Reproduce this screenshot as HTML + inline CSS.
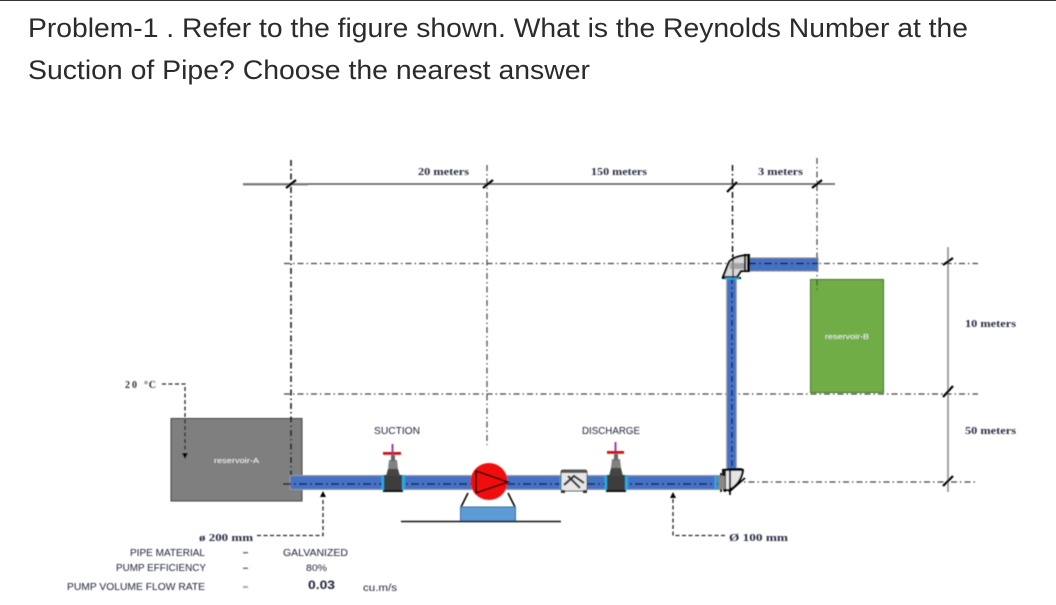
<!DOCTYPE html>
<html><head><meta charset="utf-8"><style>
html,body{margin:0;padding:0;background:#fff}
svg{display:block}
.t{font-family:"Liberation Sans",Arial,sans-serif;font-size:27px;fill:#2b2b2b}
.s{font-family:"DejaVu Sans","Liberation Sans",sans-serif;font-size:9px;fill:#2a2d42;font-weight:bold}
.m{font-family:"Liberation Serif",serif;font-size:10px;fill:#2a2d42;font-weight:bold}
.l{font-family:"Liberation Sans",sans-serif;font-size:10px;fill:#1f2238}
.w{font-family:"Liberation Sans",sans-serif;font-size:7px;fill:#f4f4f4}
.dd{stroke:#111;stroke-width:1.5;fill:none;stroke-dasharray:6 3 1.5 3}
.dh{stroke:#444;stroke-width:1.2;fill:none;stroke-dasharray:6 3 1.5 3}
.d{stroke:#222;stroke-width:1.3;fill:none;stroke-dasharray:4 2.5}
.tk{stroke:#000;stroke-width:2.2;fill:none}
</style></head><body>
<svg width="1056" height="605" viewBox="0 0 1056 605" xmlns="http://www.w3.org/2000/svg">
<defs><filter id="b" x="-2%" y="-2%" width="104%" height="104%"><feGaussianBlur stdDeviation="0.4"/></filter></defs>
<rect width="1056" height="605" fill="#fff"/>
<line x1="0" y1="0.5" x2="1056" y2="0.5" stroke="#333" stroke-width="1"/>
<text class="t" x="28" y="37" textLength="940" lengthAdjust="spacingAndGlyphs">Problem-1 . Refer to the figure shown. What is the Reynolds Number at the</text>
<text class="t" x="28" y="79" textLength="562" lengthAdjust="spacingAndGlyphs">Suction of Pipe? Choose the nearest answer</text>

<g filter="url(#b)">
<!-- reservoirs -->
<rect x="171" y="418.5" width="131" height="82.5" fill="#7f7f7f" stroke="#3a3a3a" stroke-width="1"/>
<rect x="810.5" y="279.5" width="73" height="113" fill="#70ad47" stroke="#3f6f27" stroke-width="1"/>
<text class="w" x="214" y="463" textLength="45" lengthAdjust="spacingAndGlyphs">reservoir-A</text>
<text class="w" x="825" y="339" textLength="44" lengthAdjust="spacingAndGlyphs">reservoir-B</text>

<!-- dimension lines -->
<line x1="243" y1="184" x2="835" y2="184" stroke="#555" stroke-width="1.4"/>
<line x1="243" y1="184.6" x2="308" y2="184.6" stroke="#777" stroke-width="1.6"/>
<line x1="948" y1="247" x2="948" y2="492" stroke="#999" stroke-width="1.8"/>

<!-- centre lines -->
<line class="dd" x1="291" y1="160" x2="291" y2="476"/>
<line class="dh" x1="487" y1="165" x2="487" y2="445"/>
<line class="dd" x1="732.5" y1="165" x2="732.5" y2="470"/>
<line class="dh" x1="817" y1="158" x2="817" y2="290"/>
<line class="dh" x1="284" y1="263.5" x2="978" y2="263.5"/>
<line class="dh" x1="284" y1="394" x2="978" y2="394"/>
<line class="dh" x1="735" y1="482" x2="978" y2="482"/>

<!-- ticks -->
<g class="tk">
<line x1="286" y1="188" x2="296" y2="180"/><line x1="483" y1="188" x2="493" y2="180"/>
<line x1="727" y1="192" x2="737" y2="182"/><line x1="812" y1="188" x2="822" y2="180"/>
<line x1="943" y1="265" x2="953" y2="258"/><line x1="943" y1="397" x2="953" y2="386"/>
<line x1="943" y1="486" x2="953" y2="476"/>
</g>

<!-- pipes -->
<rect x="290" y="475.5" width="430" height="14" fill="#4472c4" stroke="#999" stroke-width="1"/>
<rect x="726.5" y="276" width="10" height="194" fill="#4472c4" stroke="#aaa" stroke-width="1"/>
<rect x="746" y="258" width="72" height="13" fill="#4472c4" stroke="#888" stroke-width="1"/>
<line x1="283" y1="484" x2="720" y2="484" stroke="#14244a" stroke-width="1.4" stroke-dasharray="8 3 2 3"/>
<line x1="732" y1="278" x2="732" y2="470" stroke="#14244a" stroke-width="1.4" stroke-dasharray="6 3 2 3"/>
<line x1="748" y1="263.5" x2="818" y2="263.5" stroke="#14244a" stroke-width="1.4" stroke-dasharray="8 3 2 3"/>

<!-- upper elbow -->
<path d="M723 277 L729 262 Q734 256 748 255 L748 271 L741 271 L737 277 Z" fill="#d8d8d8" stroke="#000" stroke-width="2"/>
<path d="M745 254V272M749 254V272M722 278H741" stroke="#000" stroke-width="2" fill="none"/>
<rect x="725" y="277.5" width="14" height="2" fill="#29a8e0"/>
<line x1="733" y1="254" x2="733" y2="278" stroke="#000" stroke-width="1.2"/>
<rect x="730" y="263" width="14" height="6" fill="#999" opacity=".8"/>

<!-- lower elbow -->
<path d="M723 470 Q741 468 743 470 Q741 484 729 490 L724 490 Z" fill="#e4e4e4" stroke="#000" stroke-width="2"/>
<path d="M721 473V492M725 471V492M723 470H743M729 492L745 478M730 468V495" stroke="#000" stroke-width="1.7" fill="none"/>
<rect x="714.5" y="475" width="2.5" height="15" fill="#29a8e0"/>
<rect x="718" y="476" width="7" height="13" fill="#888"/>

<!-- suction valve -->
<rect x="381.5" y="475" width="23.5" height="15" fill="#29a8e0"/>
<rect x="384" y="475" width="18" height="16" fill="#3e3e3e"/>
<path d="M386 476L388 469H398L400 476Z" fill="#444"/>
<path d="M388 469L389 460H397L398 469Z" fill="#808080"/>
<rect x="391" y="455" width="4" height="6" fill="#666"/>
<rect x="383" y="452" width="18" height="2.8" fill="#c81414"/>
<rect x="391.5" y="444" width="2" height="9" fill="#a43aa4"/>
<rect x="383" y="490" width="20" height="2" fill="#111"/>

<!-- discharge valve -->
<rect x="604.5" y="475" width="23.5" height="15" fill="#29a8e0"/>
<rect x="607" y="475" width="18" height="16" fill="#3e3e3e"/>
<path d="M609 476L611 468H621L623 476Z" fill="#444"/>
<path d="M611 468L612 459H620L621 468Z" fill="#808080"/>
<rect x="614" y="454" width="4" height="6" fill="#666"/>
<rect x="607" y="451" width="17" height="2.8" fill="#c81414"/>
<rect x="614.5" y="442" width="2" height="9" fill="#a43aa4"/>
<rect x="606" y="490" width="20" height="2" fill="#111"/>

<!-- check valve -->
<rect x="559.5" y="475" width="2.5" height="15" fill="#29a8e0"/>
<rect x="561" y="470" width="26" height="21" rx="2" fill="#e6e6e6" stroke="#555" stroke-width="1"/>
<rect x="561" y="470" width="26" height="3" fill="#555"/>
<path d="M564 485L574 476L584 483M568 476L580 488" stroke="#333" stroke-width="2.2" fill="none"/>
<rect x="561" y="490" width="4" height="3" fill="#333"/><rect x="583" y="490" width="4" height="3" fill="#333"/>

<!-- pump -->
<path d="M461 507L468 493M515 507L508 493" stroke="#000" stroke-width="1.6" fill="none"/>
<rect x="460.5" y="507" width="55" height="14" fill="#5b9bd5" stroke="#3a6ea0" stroke-width="1"/>
<line x1="401" y1="521.5" x2="561" y2="521.5" stroke="#111" stroke-width="1.6"/>
<circle cx="489" cy="481.5" r="18.5" fill="#f01010"/>
<path d="M476 471L508 482L476 493Z" fill="none" stroke="#000" stroke-width="1.5"/>

<!-- leaders -->
<path class="d" d="M257 535.5H323V498"/>
<path d="M323 491l-3 6h6z" fill="#000"/>
<path class="d" d="M725 535.5H673V498"/>
<path d="M673 492l-3 6h6z" fill="#000"/>
<path class="d" d="M162 384H185V452"/>
<path d="M185 459l-3 -6h6z" fill="#000"/>

<!-- labels -->
<text class="m" x="418" y="175" textLength="51" lengthAdjust="spacingAndGlyphs">20 meters</text>
<text class="m" x="591" y="175" textLength="56" lengthAdjust="spacingAndGlyphs">150 meters</text>
<text class="m" x="758" y="175" textLength="45" lengthAdjust="spacingAndGlyphs">3 meters</text>
<text class="m" x="965" y="327" textLength="51" lengthAdjust="spacingAndGlyphs">10 meters</text>
<text class="m" x="965" y="434" textLength="51" lengthAdjust="spacingAndGlyphs">50 meters</text>
<text class="m" x="125" y="388" textLength="12">20</text>
<text class="m" x="144" y="388" textLength="12">°C</text>
<text class="l" x="374" y="434" textLength="46" lengthAdjust="spacingAndGlyphs">SUCTION</text>
<text class="l" x="582" y="434" textLength="58" lengthAdjust="spacingAndGlyphs">DISCHARGE</text>
<text class="m" x="199" y="541" textLength="54" lengthAdjust="spacingAndGlyphs">ø 200 mm</text>
<text class="m" x="729" y="541" textLength="59" lengthAdjust="spacingAndGlyphs">Ø   100 mm</text>
<text class="l" x="130" y="556" textLength="75" lengthAdjust="spacingAndGlyphs">PIPE MATERIAL</text>
<text class="l" x="116" y="571" textLength="90" lengthAdjust="spacingAndGlyphs">PUMP EFFICIENCY</text>
<text class="l" x="67" y="590" textLength="138" lengthAdjust="spacingAndGlyphs">PUMP VOLUME FLOW RATE</text>
<rect x="243" y="552" width="5" height="1.5" fill="#777"/><rect x="243" y="567.5" width="5" height="1.5" fill="#777"/><rect x="243" y="586" width="5" height="2" fill="#aaa"/>
<text class="l" x="283" y="556" textLength="65" lengthAdjust="spacingAndGlyphs">GALVANIZED</text>
<text class="l" x="306" y="571" textLength="21" lengthAdjust="spacingAndGlyphs" style="font-size:9px">80%</text>
<text class="l" x="308" y="589" textLength="27" lengthAdjust="spacingAndGlyphs" style="font-size:12px;font-weight:bold">0.03</text>
<text class="l" x="363" y="591" textLength="34" lengthAdjust="spacingAndGlyphs">cu.m/s</text>
</g>
</svg>
</body></html>
